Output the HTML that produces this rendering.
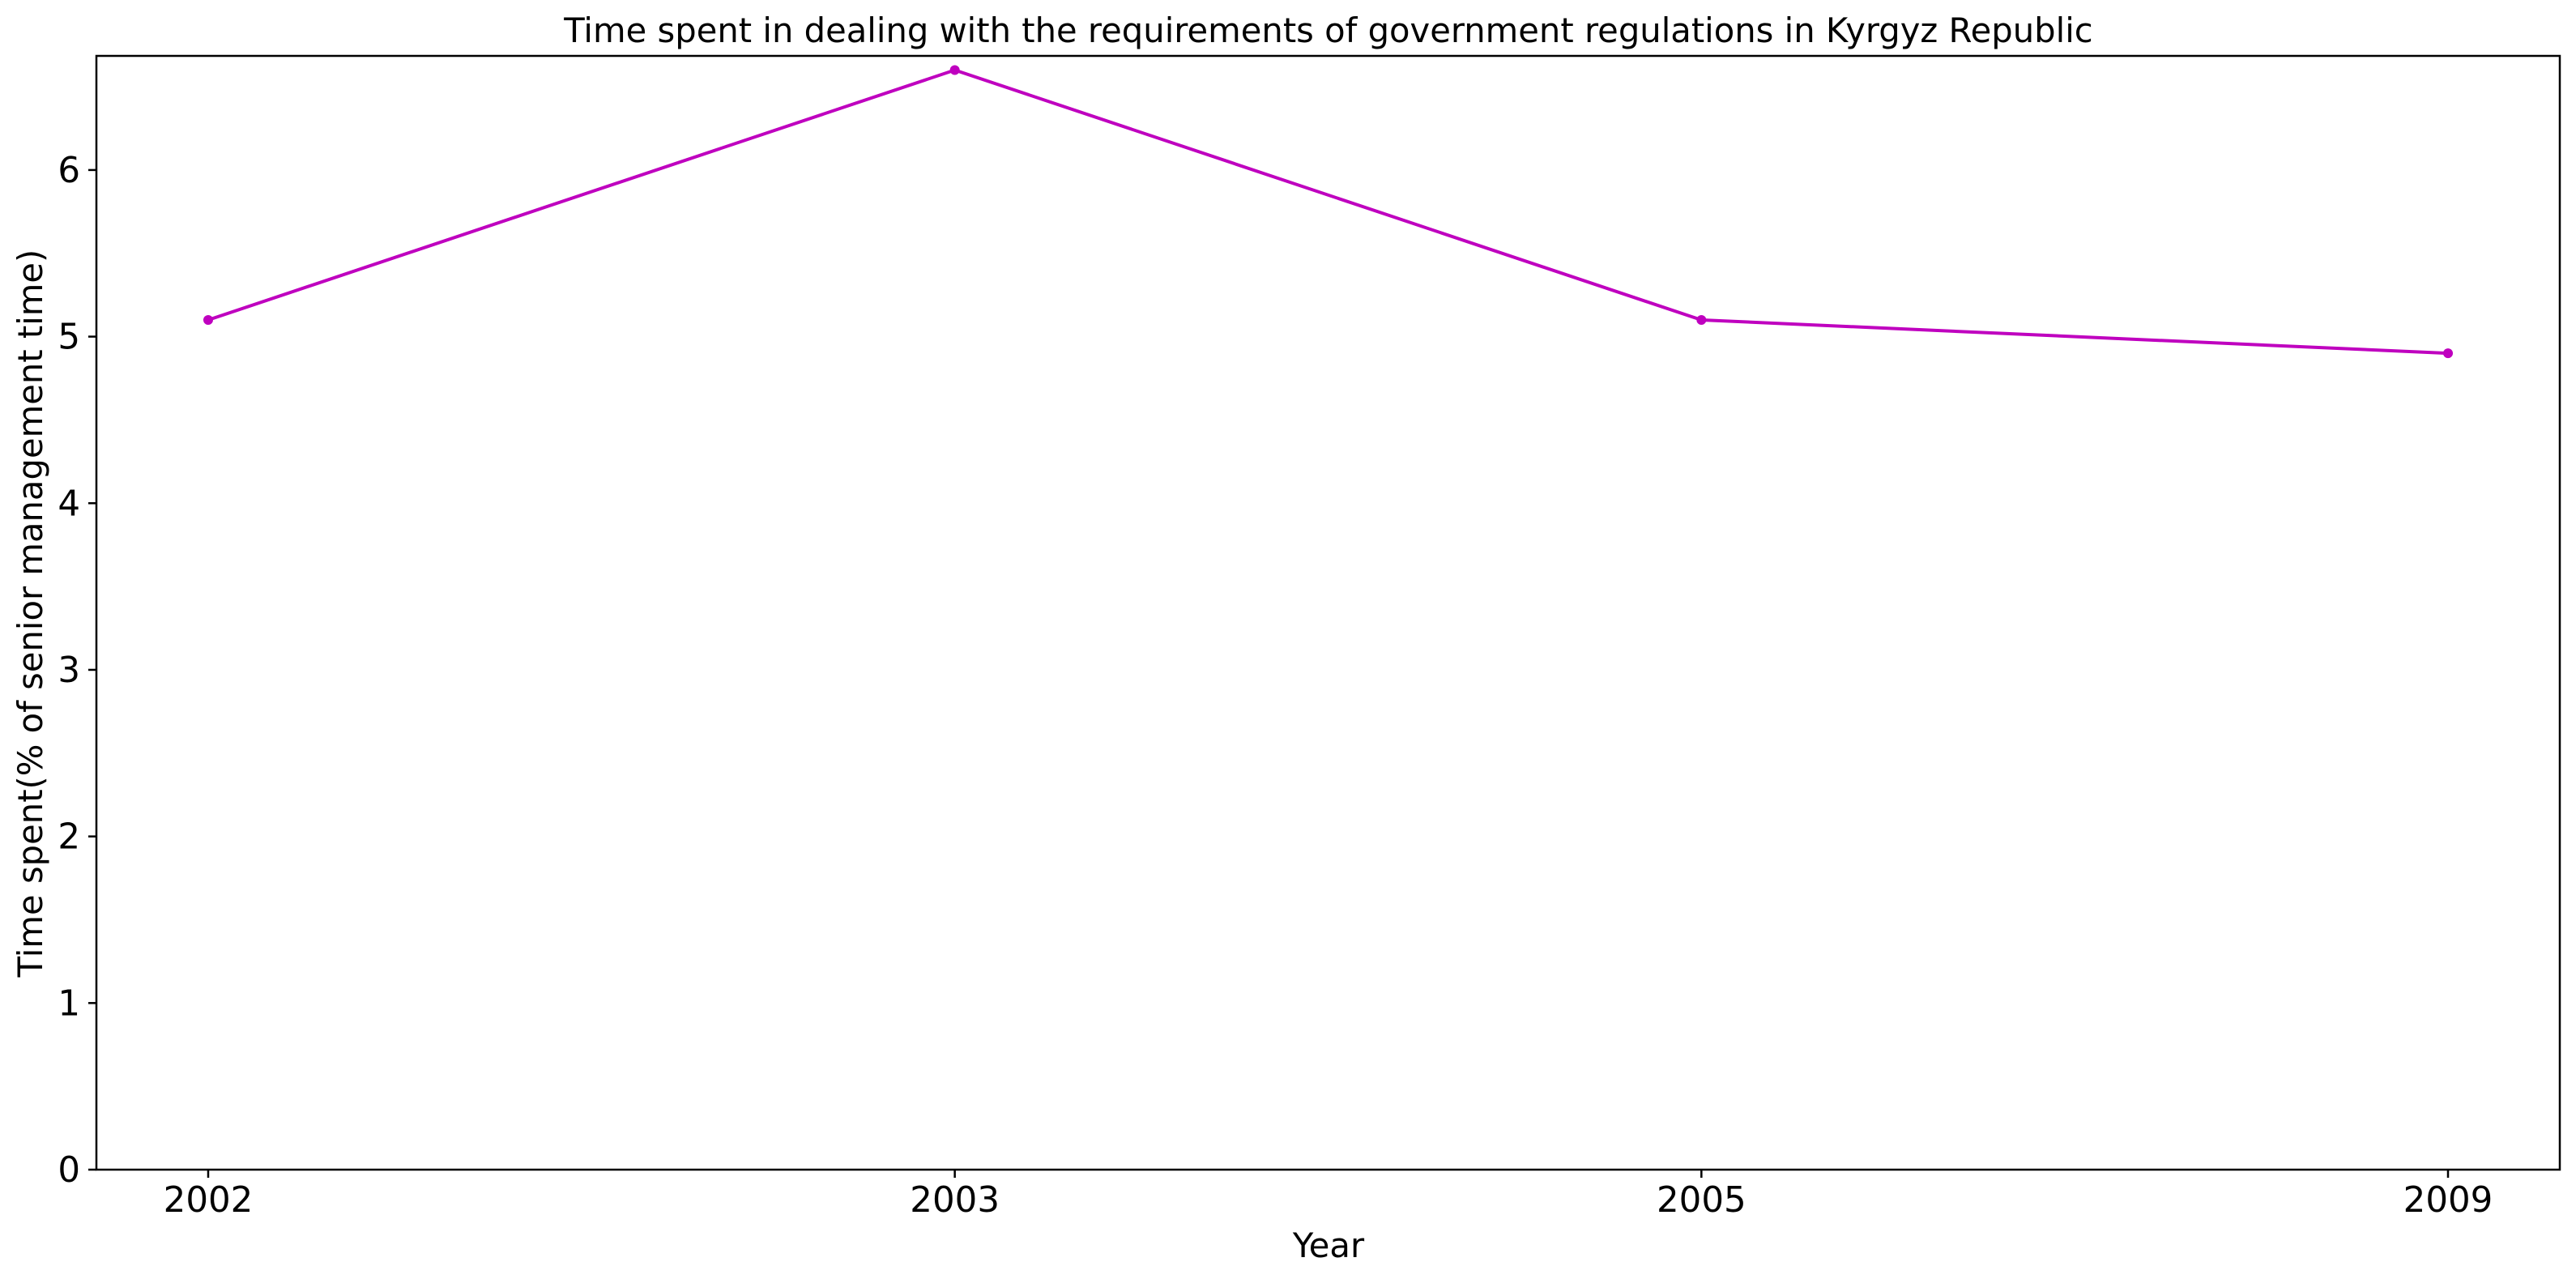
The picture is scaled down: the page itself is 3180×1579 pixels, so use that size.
<!DOCTYPE html>
<html><head><meta charset="utf-8"><style>
html,body{margin:0;padding:0;background:#fff;}
svg{display:block;font-family:"Liberation Sans","DejaVu Sans",sans-serif;}
</style></head><body>
<svg id="chart" width="3180" height="1579" xmlns="http://www.w3.org/2000/svg">
<rect x="0" y="0" width="3180" height="1579" fill="#fff"/>
<text x="1640" y="52" font-size="41.7" text-anchor="middle" font-family="DejaVu Sans, sans-serif">Time spent in dealing with the requirements of government regulations in Kyrgyz Republic</text>
<g id="ticks"></g>
<g id="series"></g>
<rect x="119" y="69" width="3041" height="1375" fill="none" stroke="#000" stroke-width="2.5"/>
<text x="1640" y="1552" font-size="41.7" text-anchor="middle" font-family="DejaVu Sans, sans-serif">Year</text>
<text transform="translate(52,757) rotate(-90)" font-size="41.7" text-anchor="middle" font-family="DejaVu Sans, sans-serif">Time spent(% of senior management time)</text>
</svg>
<script>
const categories = ["2002","2003","2005","2009"];
const values = [5.1, 6.6, 5.1, 4.9];
const yTicks = [0,1,2,3,4,5,6];
const L=119,R=3160,T=69,B=1444,ymax=6.685;
const x0=257,x1=3022;
function xs(i){return x0+(x1-x0)*i/(categories.length-1);}
function ys(v){return B-(B-T)*v/ymax;}
const NS="http://www.w3.org/2000/svg";
const tg=document.getElementById('ticks'), sg=document.getElementById('series');
function mk(tag,attrs,parent){const e=document.createElementNS(NS,tag);for(const k in attrs)e.setAttribute(k,attrs[k]);parent.appendChild(e);return e;}
yTicks.forEach(v=>{
  const y=ys(v);
  const l=mk('line',{x1:L-10,x2:L,y1:y,y2:y,stroke:'#000','stroke-width':2.5},tg);
  
  
  const t=mk('text',{x:L-20,y:y+15,'font-size':43.5,'text-anchor':'end','font-family':'DejaVu Sans, sans-serif'},tg);
  t.textContent=v;
  
  
});
categories.forEach((c,i)=>{
  const x=xs(i);
  const l=mk('line',{x1:x,x2:x,y1:B,y2:B+10,stroke:'#000','stroke-width':2.5},tg);
  
  
  const t=mk('text',{x:x,y:B+52,'font-size':43.5,'text-anchor':'middle','font-family':'DejaVu Sans, sans-serif'},tg);
  t.textContent=c;
  
  
});
const pts=values.map((v,i)=>xs(i)+','+ys(v)).join(' ');
const pl=mk('polyline',{points:pts,fill:'none',stroke:'#bf00bf','stroke-width':4,'stroke-linejoin':'round'},sg);


values.forEach((v,i)=>{
  const c=mk('circle',{cx:xs(i),cy:ys(v),r:6,fill:'#bf00bf'},sg);
  
  
});
</script>
</body></html>
